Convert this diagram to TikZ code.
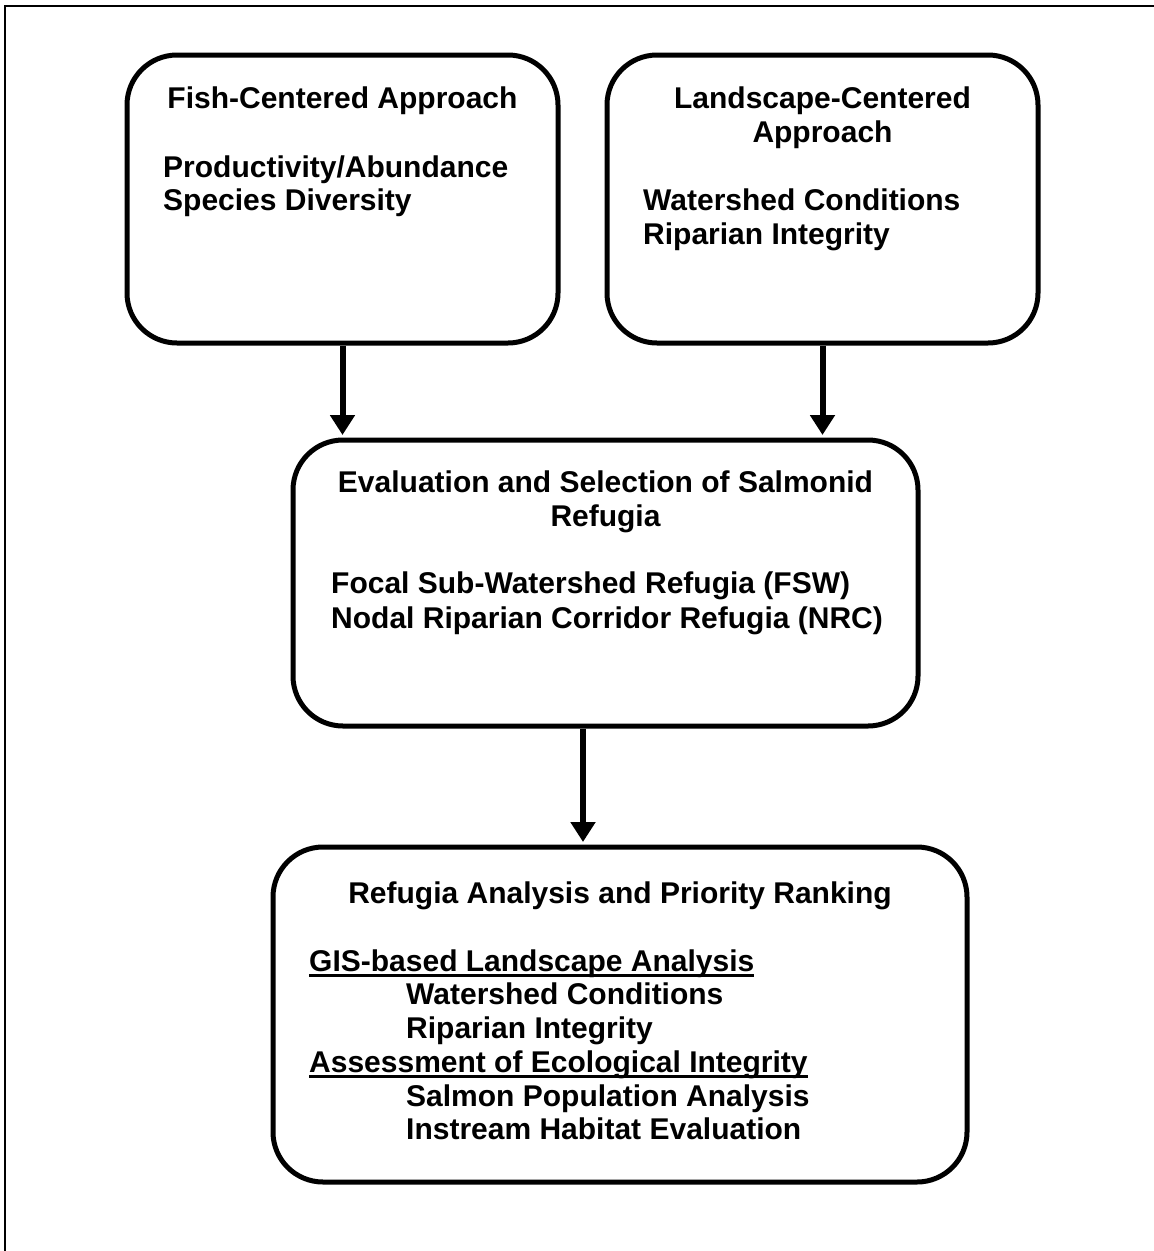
\documentclass[tikz,border=0pt]{standalone}
\usepackage{fontspec}
\setmainfont{Liberation Sans}
\usetikzlibrary{arrows.meta}

\newcommand\ulbar[1]{\setbox0\hbox{#1}\rlap{\rule[-5.5pt]{\wd0}{2.2pt}}\box0}

\begin{document}
\begin{tikzpicture}[x=1pt, y=-1pt,
  box/.style = {draw, line width=5pt, rounded corners=50pt},
  ttl/.style = {anchor=base, inner sep=0pt},
  txt/.style = {anchor=base west, inner sep=0pt},
  flow/.style = {line width=6pt, -{Triangle[width=24pt,length=20pt]}, shorten >=2.5pt},
  every node/.style = {font=\fontsize{30}{34}\selectfont\bfseries}]
  \useasboundingbox (0,0) rectangle (1154,1251);
  \draw[line width=1.5pt] (5,1270) |- (1170,6);

  % boxes
  \node[box, minimum width=431pt, minimum height=288pt] (fish) at (342.5,199) {};
  \node[box, minimum width=431pt, minimum height=288pt] (land) at (822.5,199) {};
  \node[box, minimum width=625pt, minimum height=286pt] (eval) at (605.5,583) {};
  \node[box, minimum width=694pt, minimum height=335pt] (rank) at (620,1014.5) {};
  \coordinate (mid) at (583,0);

  % texts
  \node[ttl] (fishT) at (342.5,108) {Fish-Centered Approach};
  \node[txt] (fish1) at (163,177) {Productivity/Abundance};
  \node[txt] (fish2) at (163,210) {Species Diversity};

  \node[ttl] (landT) at (822.5,108) {Landscape-Centered};
  \node[ttl] (landT2) at (822.5,142) {Approach};
  \node[txt] (land1) at (643,210) {Watershed Conditions};
  \node[txt] (land2) at (643,244) {Riparian Integrity};

  \node[ttl] (evalT) at (605.5,492) {Evaluation and Selection of Salmonid};
  \node[ttl] (evalT2) at (605.5,526) {Refugia};
  \node[txt] (eval1) at (331,593) {Focal Sub-Watershed Refugia (FSW)};
  \node[txt] (eval2) at (331,628) {Nodal Riparian Corridor Refugia (NRC)};

  \node[ttl] (rankT) at (620,903) {Refugia Analysis and Priority Ranking};
  \node[txt] (rank1) at (309,971) {\ulbar{GIS-based Landscape Analysis}};
  \node[txt] (rank2) at (406,1004) {Watershed Conditions};
  \node[txt] (rank3) at (406,1038) {Riparian Integrity};
  \node[txt] (rank4) at (309,1072) {\ulbar{Assessment of Ecological Integrity}};
  \node[txt] (rank5) at (406,1106) {Salmon Population Analysis};
  \node[txt] (rank6) at (406,1139) {Instream Habitat Evaluation};

  % arrows
  \draw[flow] (fish.south) -- (eval.north -| fish.south);
  \draw[flow] (land.south) -- (eval.north -| land.south);
  \draw[flow] (eval.south -| mid) -- (rank.north -| mid);
\end{tikzpicture}
\end{document}
